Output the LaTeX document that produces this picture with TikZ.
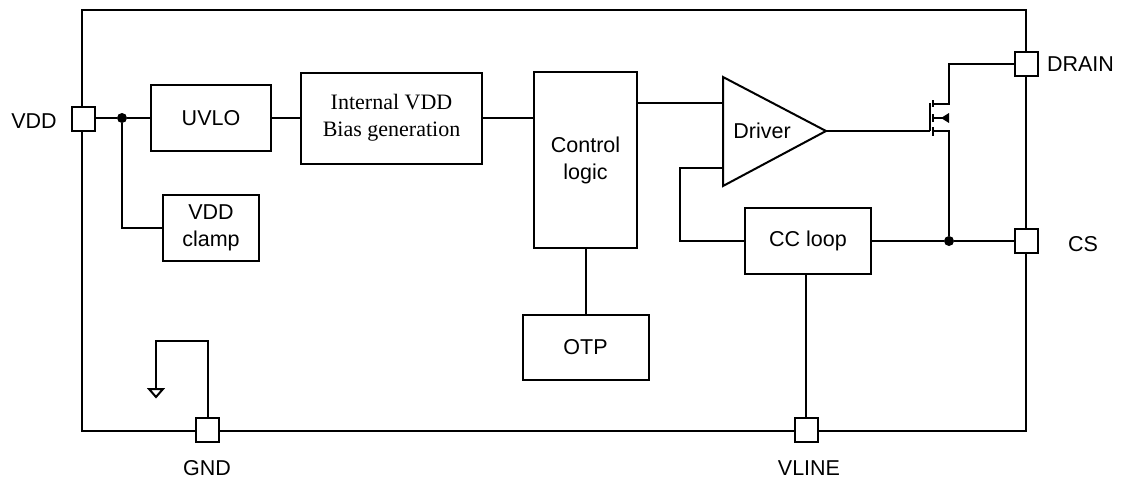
\documentclass[tikz,border=0pt]{standalone}
\usepackage{fontspec}
\setmainfont{Liberation Sans}
\newfontfamily\romanfont{Liberation Serif}
\tikzset{
  block/.style={draw, line width=2pt, fill=white, inner sep=0pt, align=center,
    font=\fontsize{21.5}{27}\selectfont},
  pin/.style={draw, line width=2pt, fill=white, minimum width=23pt, minimum height=24pt, inner sep=0pt},
  pinlabel/.style={font=\fontsize{21.5}{24}\selectfont, inner sep=0pt},
  wire/.style={line width=2pt},
  dot/.style={circle, fill=black, inner sep=0pt, minimum size=10pt}
}
\begin{document}
\begin{tikzpicture}[x=1pt, y=-1pt]
  \useasboundingbox (0,0) rectangle (1123,479);

  % frame and pins
  \node[draw, line width=2pt, inner sep=0pt, minimum width=944pt, minimum height=421pt] (frame) at (554,220.5) {};
  \node[pin] (pinvdd) at (83,118.5) {};
  \node[pin] (pindrain) at (1026,63.5) {};
  \node[pin] (pincs) at (1026,241) {};
  \node[pin] (pingnd) at (207.5,430) {};
  \node[pin] (pinvline) at (806,430) {};

  \node[pinlabel] (lblvdd) at (34,121) {VDD};
  \node[pinlabel] (lbldrain) at (1080.5,64) {DRAIN};
  \node[pinlabel] (lblcs) at (1083,244) {CS};
  \node[pinlabel] (lblgnd) at (207,468.5) {GND};
  \node[pinlabel] (lblvline) at (809,468.5) {VLINE};

  % blocks
  \node[block, minimum width=120pt, minimum height=66pt] (uvlo) at (211,118) {UVLO};
  \node[block, minimum width=181pt, minimum height=91pt, font=\romanfont\fontsize{22}{27}\selectfont] (bias) at (391.5,118) {Internal VDD\\Bias generation};
  \node[block, minimum width=103pt, minimum height=176pt] (logic) at (585.5,160) {Control\\logic};
  \node[block, minimum width=126pt, minimum height=65pt] (otp) at (585.5,347.5) {OTP};
  \node[block, minimum width=126pt, minimum height=66pt] (ccloop) at (808,241) {CC loop};
  \node[block, minimum width=96pt, minimum height=66pt] (clamp) at (211,228) {VDD\\clamp};

  % driver
  \coordinate (drvtop) at (723,77);
  \coordinate (drvbot) at (723,186);
  \coordinate (drvout) at (826,131);
  \coordinate (drvinA) at (723,103);
  \coordinate (drvinB) at (723,168);
  \draw[wire, line join=miter] (drvtop) -- (drvout) -- (drvbot) -- cycle;
  \node[block, draw=none, fill=none] (driver) at (762,131) {Driver};

  % wires
  \node[dot] (jvdd) at (122,118) {};
  \node[dot] (jcs) at (949,241) {};
  \draw[wire] (pinvdd.east |- jvdd) -- (jvdd) -- (uvlo);
  \draw[wire] (jvdd) |- (clamp);
  \draw[wire] (uvlo) -- (bias);
  \draw[wire] (bias) -- (bias -| logic.west);
  \draw[wire] (logic.east |- drvinA) -- (drvinA);
  \draw[wire] (logic) -- (otp);
  \draw[wire] (drvinB) -- (680,168) |- (ccloop);
  \draw[wire] (ccloop) -- (jcs) -- (pincs);
  \draw[wire] (ccloop.south -| pinvline) -- (pinvline);

  % gnd
  \coordinate (gndsym) at (156,389);
  \draw[wire] (pingnd) -- (pingnd |- 0,341) -| (gndsym);
  \draw[wire, line join=miter] (149,389) -- (163,389) -- (156,397) -- cycle;

  % mosfet
  \coordinate (gate) at (930,131);
  \coordinate (mosd) at (949,104);
  \coordinate (moss) at (949,131);
  \coordinate (mosb) at (949,118);
  \draw[wire] (drvout) -- (gate);
  \draw[wire] (930,103) -- (gate);
  \draw[wire] (933,100) -- (933,107);
  \draw[wire] (933,114) -- (933,122);
  \draw[wire] (933,127) -- (933,136);
  \draw[wire] (pindrain) -| (mosd) -- (933,104);
  \draw[wire] (933,131) -- (moss) -- (jcs);
  \draw[wire] (933,118) -- (mosb);
  \fill (941,118) -- (949,113) -- (949,123) -- cycle;
\end{tikzpicture}
\end{document}
